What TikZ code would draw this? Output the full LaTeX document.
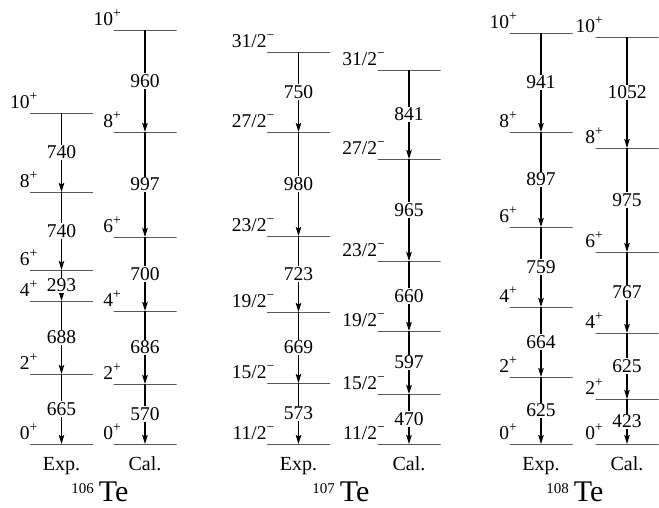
\documentclass[tikz,border=0pt]{standalone}
\usepackage{fontspec}
\setmainfont{Liberation Serif}
\usetikzlibrary{arrows.meta}
\newcommand{\spn}[1]{\textsuperscript{#1}}
\tikzset{
  lev/.style={draw, line width=0.8pt, minimum width=63pt, minimum height=0pt, inner sep=0pt, outer sep=0pt},
  spin/.style={anchor=base east, xshift=8pt, yshift=4.5pt, inner sep=0pt, font=\fontsize{19.5}{20}\selectfont},
  gam/.style={line width=1.1pt, -{Stealth[length=9pt,width=5.5pt,inset=1.5pt]}},
  egy/.style={fill=white, inner sep=1pt, font=\fontsize{19.5}{20}\selectfont},
  colname/.style={anchor=base, inner sep=0pt, font=\fontsize{20}{20}\selectfont},
  nucl/.style={anchor=base, inner sep=0pt, font=\fontsize{30}{30}\selectfont}
}
\begin{document}
\begin{tikzpicture}[x=1pt, y=-1pt]
\useasboundingbox (0,0) rectangle (659,508);

% 106Te, exp.
\node[lev, label={[spin]west:10\spn{+}}] (a10) at (61.5,113) {};
\node[lev, label={[spin]west:8\spn{+}}] (a8) at (61.5,192) {};
\node[lev, label={[spin]west:6\spn{+}}] (a6) at (61.5,270) {};
\node[lev, label={[spin]west:4\spn{+}}] (a4) at (61.5,301) {};
\node[lev, label={[spin]west:2\spn{+}}] (a2) at (61.5,374) {};
\node[lev, label={[spin]west:0\spn{+}}] (a0) at (61.5,444) {};
\draw[gam] (a10) -- node[egy] {740} (a8);
\draw[gam] (a8) -- node[egy] {740} (a6);
\draw[gam] (a6) -- node[egy] {293} (a4);
\draw[gam] (a4) -- node[egy] {688} (a2);
\draw[gam] (a2) -- node[egy] {665} (a0);
% 106Te, cal.
\node[lev, label={[spin]west:10\spn{+}}] (b10) at (145,30) {};
\node[lev, label={[spin]west:8\spn{+}}] (b8) at (145,132) {};
\node[lev, label={[spin]west:6\spn{+}}] (b6) at (145,237) {};
\node[lev, label={[spin]west:4\spn{+}}] (b4) at (145,311) {};
\node[lev, label={[spin]west:2\spn{+}}] (b2) at (145,384) {};
\node[lev, label={[spin]west:0\spn{+}}] (b0) at (145,444) {};
\draw[gam] (b10) -- node[egy] {960} (b8);
\draw[gam] (b8) -- node[egy] {997} (b6);
\draw[gam] (b6) -- node[egy] {700} (b4);
\draw[gam] (b4) -- node[egy] {686} (b2);
\draw[gam] (b2) -- node[egy] {570} (b0);
\node[colname] (expa) at (61.5,470) {Exp.};
\node[colname] (cala) at (145,470) {Cal.};
\node[nucl] (te106) at (100,501) {\raisebox{8pt}{\fontsize{15}{15}\selectfont 106}\,Te};

% 107Te, exp.
\node[lev, label={[spin]west:31/2\spn{−}}] (c31) at (298.5,52) {};
\node[lev, label={[spin]west:27/2\spn{−}}] (c27) at (298.5,132) {};
\node[lev, label={[spin]west:23/2\spn{−}}] (c23) at (298.5,236) {};
\node[lev, label={[spin]west:19/2\spn{−}}] (c19) at (298.5,312) {};
\node[lev, label={[spin]west:15/2\spn{−}}] (c15) at (298.5,383) {};
\node[lev, label={[spin]west:11/2\spn{−}}] (c11) at (298.5,444) {};
\draw[gam] (c31) -- node[egy] {750} (c27);
\draw[gam] (c27) -- node[egy] {980} (c23);
\draw[gam] (c23) -- node[egy] {723} (c19);
\draw[gam] (c19) -- node[egy] {669} (c15);
\draw[gam] (c15) -- node[egy] {573} (c11);
% 107Te, cal.
\node[lev, label={[spin]west:31/2\spn{−}}] (d31) at (409,70) {};
\node[lev, label={[spin]west:27/2\spn{−}}] (d27) at (409,159) {};
\node[lev, label={[spin]west:23/2\spn{−}}] (d23) at (409,261) {};
\node[lev, label={[spin]west:19/2\spn{−}}] (d19) at (409,331) {};
\node[lev, label={[spin]west:15/2\spn{−}}] (d15) at (409,394) {};
\node[lev, label={[spin]west:11/2\spn{−}}] (d11) at (409,444) {};
\draw[gam] (d31) -- node[egy] {841} (d27);
\draw[gam] (d27) -- node[egy] {965} (d23);
\draw[gam] (d23) -- node[egy] {660} (d19);
\draw[gam] (d19) -- node[egy] {597} (d15);
\draw[gam] (d15) -- node[egy] {470} (d11);
\node[colname] (expb) at (298.5,470) {Exp.};
\node[colname] (calb) at (409,470) {Cal.};
\node[nucl] (te107) at (341,501) {\raisebox{8pt}{\fontsize{15}{15}\selectfont 107}\,Te};

% 108Te, exp.
\node[lev, label={[spin]west:10\spn{+}}] (e10) at (541,33) {};
\node[lev, label={[spin]west:8\spn{+}}] (e8) at (541,132) {};
\node[lev, label={[spin]west:6\spn{+}}] (e6) at (541,227) {};
\node[lev, label={[spin]west:4\spn{+}}] (e4) at (541,307) {};
\node[lev, label={[spin]west:2\spn{+}}] (e2) at (541,377) {};
\node[lev, label={[spin]west:0\spn{+}}] (e0) at (541,444) {};
\draw[gam] (e10) -- node[egy] {941} (e8);
\draw[gam] (e8) -- node[egy] {897} (e6);
\draw[gam] (e6) -- node[egy] {759} (e4);
\draw[gam] (e4) -- node[egy] {664} (e2);
\draw[gam] (e2) -- node[egy] {625} (e0);
% 108Te, cal.
\node[lev, label={[spin]west:10\spn{+}}] (f10) at (627,37) {};
\node[lev, label={[spin]west:8\spn{+}}] (f8) at (627,148) {};
\node[lev, label={[spin]west:6\spn{+}}] (f6) at (627,252) {};
\node[lev, label={[spin]west:4\spn{+}}] (f4) at (627,333) {};
\node[lev, label={[spin]west:2\spn{+}}] (f2) at (627,399) {};
\node[lev, label={[spin]west:0\spn{+}}] (f0) at (627,444) {};
\draw[gam] (f10) -- node[egy] {1052} (f8);
\draw[gam] (f8) -- node[egy] {975} (f6);
\draw[gam] (f6) -- node[egy] {767} (f4);
\draw[gam] (f4) -- node[egy] {625} (f2);
\draw[gam] (f2) -- node[egy] {423} (f0);
\node[colname] (expc) at (541,470) {Exp.};
\node[colname] (calc) at (627,470) {Cal.};
\node[nucl] (te108) at (575,501) {\raisebox{8pt}{\fontsize{15}{15}\selectfont 108}\,Te};
\end{tikzpicture}
\end{document}
